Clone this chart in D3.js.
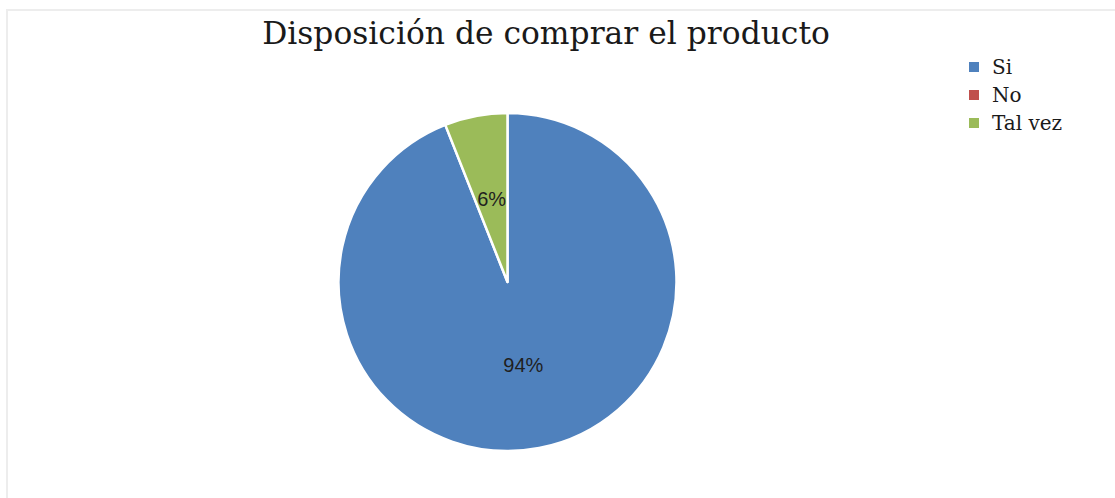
<!DOCTYPE html>
<html>
<head>
<meta charset="utf-8">
<script src="https://cdn.jsdelivr.net/npm/d3@7"></script>
<style>
  html, body { margin: 0; padding: 0; background: #ffffff; }
  svg { display: block; }
</style>
</head>
<body>
<script>
// Survey answers: willingness to buy the product
const categories = ["Si", "No", "Tal vez"];
const values = [94, 0, 6];
const colors = ["#4F81BD", "#C0504D", "#9BBB59"];
const title = "Disposición de comprar el producto";

const W = 1115, H = 498;
const svg = d3.select("body").append("svg").attr("width", W).attr("height", H);

// chart area frame (top and left edges visible)
svg.append("rect")
  .attr("x", 7).attr("y", 10).attr("width", W + 10).attr("height", H + 10)
  .attr("fill", "#ffffff").attr("stroke", "#ededed").attr("stroke-width", 2);

// title, scaled to span its intended width
const titleText = svg.append("text")
  .attr("x", 546).attr("y", 44)
  .attr("text-anchor", "middle")
  .attr("font-family", "'DejaVu Serif', 'Liberation Serif', serif")
  .attr("font-size", 30)
  .attr("fill", "#1a1a1a")
  .text(title);
const tw = titleText.node().getComputedTextLength();
titleText.attr("font-size", 30 * 568 / tw);

// pie
const cx = 507.5, cy = 282, r = 169;
const color = d3.scaleOrdinal().domain(categories).range(colors);
const pie = d3.pie().sort(null).value(d => d.value);
const data = categories.map((c, i) => ({ cat: c, value: values[i] }));
const arcs = pie(data);
const arc = d3.arc().innerRadius(0).outerRadius(r);

const g = svg.append("g").attr("transform", `translate(${cx},${cy})`);
g.selectAll("path")
  .data(arcs.filter(d => d.data.value > 0))
  .join("path")
  .attr("d", arc)
  .attr("fill", d => color(d.data.cat))
  .attr("stroke", "#ffffff")
  .attr("stroke-width", 2.5)
  .attr("stroke-linejoin", "round");

const total = d3.sum(values);
g.selectAll("text.lbl")
  .data(arcs.filter(d => d.data.value > 0))
  .join("text")
  .attr("class", "lbl")
  .attr("transform", d => {
    const [x, y] = arc.centroid(d);
    return `translate(${x},${y})`;
  })
  .attr("text-anchor", "middle")
  .attr("dy", "0.35em")
  .attr("font-family", "'Liberation Sans', Arial, sans-serif")
  .attr("font-size", 20)
  .attr("fill", "#1f1f1f")
  .text(d => Math.round(d.data.value / total * 100) + "%");

// legend
const legend = svg.append("g").attr("transform", "translate(969,62)");
const rows = legend.selectAll("g")
  .data(categories)
  .join("g")
  .attr("transform", (d, i) => `translate(0,${i * 28})`);
rows.append("rect")
  .attr("width", 10).attr("height", 10)
  .attr("fill", d => color(d));
rows.append("text")
  .attr("x", 23).attr("y", 5)
  .attr("dy", "0.35em")
  .attr("font-family", "'DejaVu Serif', 'Liberation Serif', serif")
  .attr("font-size", 20)
  .attr("fill", "#1a1a1a")
  .text(d => d);
</script>
</body>
</html>
